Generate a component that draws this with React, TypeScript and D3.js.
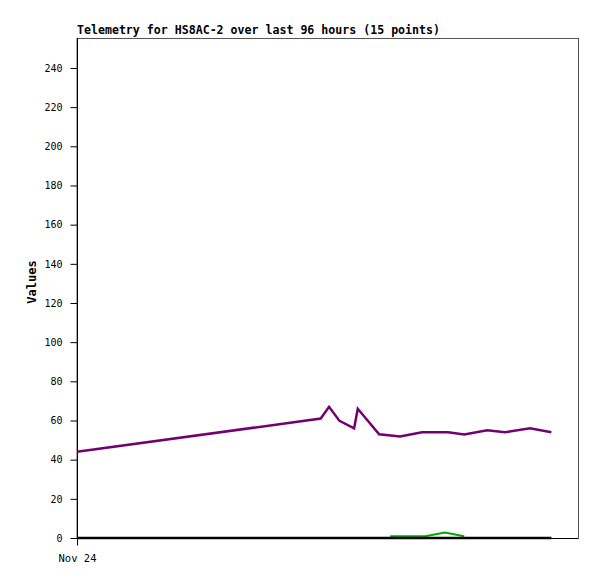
import React, { useEffect, useRef } from "react";
import * as d3 from "d3";

// hours since start of window (96 h)
const purpleHours = [0, 46.7, 48.3, 50.3, 53.1, 53.8, 57.9, 61.9, 66.1, 71.1, 74.2, 78.6, 82.0, 86.8, 90.9];
const purpleValues = [44, 61, 67, 59.8, 56, 66, 53, 51.8, 54, 54, 52.8, 55, 54, 56, 54];

const greenHours = [60.0, 66.7, 70.5, 74.2];
const greenValues = [0.9, 0.9, 2.8, 0.9];

const blackHours = [0, 90.9];
const blackValues = [0, 0];

const yTicks = [0, 20, 40, 60, 80, 100, 120, 140, 160, 180, 200, 220, 240];
const xTickLabel = "Nov 24";
const title = "Telemetry for HS8AC-2 over last 96 hours (15 points)";

const App = () => {
  const svgRef = useRef<SVGSVGElement>(null);

  useEffect(() => {
    const width = 597;
    const height = 579;
    const margin = { top: 38, right: 19, bottom: 41, left: 77 };
    const innerW = width - margin.left - margin.right;
    const innerH = height - margin.top - margin.bottom;

    const root = d3.select(svgRef.current);
    root.selectAll("*").remove();

    const svg = root
      .append("g")
      .attr("transform", `translate(${margin.left},${margin.top})`);

    const x = d3.scaleLinear().domain([0, 96]).range([0, innerW]);
    const y = d3.scaleLinear().domain([0, 255.3]).range([innerH, 0]);

    // frame
    svg
      .append("rect")
      .attr("x", 0)
      .attr("y", 0.5)
      .attr("width", innerW + 0.5)
      .attr("height", innerH)
      .attr("fill", "none")
      .attr("stroke", "#555")
      .attr("stroke-width", 1);

    // Y axis
    const yAxis = svg
      .append("g")
      .attr("transform", "translate(0.5,0)")
      .call(d3.axisLeft(y).tickValues(yTicks).tickSize(7).tickPadding(8))
      .call((g) => g.select(".domain").attr("stroke", "#000").attr("d", `M0,0V${innerH + 7}`));

    yAxis
      .selectAll("text")
      .style("font-family", "DejaVu Sans Mono, monospace")
      .style("font-size", "10px")
      .attr("fill", "#000");

    // X axis
    const xAxis = svg
      .append("g")
      .attr("transform", `translate(0,${innerH + 0.5})`)
      .call(
        d3
          .axisBottom(x)
          .tickValues([0])
          .tickFormat(() => xTickLabel)
          .tickSize(7)
          .tickPadding(9)
      )
      .call((g) => g.select(".domain").attr("stroke", "#000").attr("d", `M0,0H${innerW}`));

    xAxis
      .selectAll("text")
      .style("font-family", "DejaVu Sans Mono, monospace")
      .style("font-size", "10.5px")
      .attr("fill", "#000");

    const line = d3
      .line<[number, number]>()
      .x((d) => x(d[0]))
      .y((d) => y(d[1]));

    const series = [
      { hours: greenHours, values: greenValues, color: "#00aa00", w: 2 },
      { hours: blackHours, values: blackValues, color: "#000000", w: 2.5 },
      { hours: purpleHours, values: purpleValues, color: "#730073", w: 2.5 },
    ];

    series.forEach((s) => {
      const pts = s.hours.map((h, i) => [h, s.values[i]] as [number, number]);
      svg
        .append("path")
        .datum(pts)
        .attr("d", line)
        .attr("fill", "none")
        .attr("stroke", s.color)
        .attr("stroke-width", s.w)
        .attr("stroke-linejoin", "miter");
    });

    // title
    root
      .append("text")
      .attr("x", margin.left)
      .attr("y", 34)
      .attr("textLength", 363)
      .attr("lengthAdjust", "spacingAndGlyphs")
      .text(title)
      .style("font-family", "DejaVu Sans Mono, monospace")
      .style("font-weight", "bold")
      .style("font-size", "12px")
      .attr("fill", "#000");

    // y label
    root
      .append("text")
      .attr("transform", `translate(36,${margin.top + innerH / 2 - 6}) rotate(-90)`)
      .attr("text-anchor", "middle")
      .text("Values")
      .style("font-family", "DejaVu Sans Mono, monospace")
      .style("font-weight", "bold")
      .style("font-size", "12px")
      .attr("fill", "#000");
  }, []);

  return (
    <svg
      ref={svgRef}
      width={597}
      height={579}
      style={{ position: "absolute", left: 0, top: 0, background: "#fff" }}
    />
  );
};

export default App;
